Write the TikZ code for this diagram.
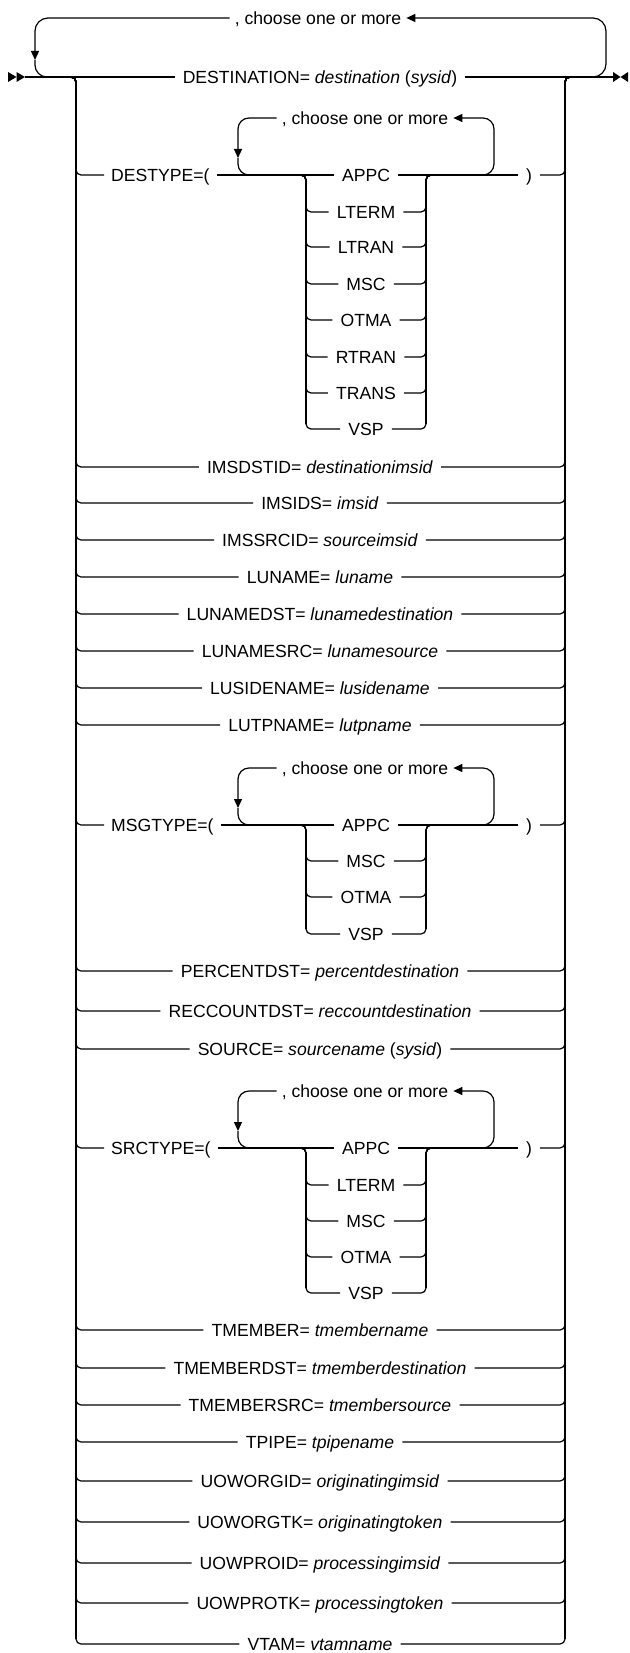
\documentclass[tikz,border=0pt]{standalone}
\usepackage{fontspec}
\setmainfont{Liberation Sans}
\usetikzlibrary{arrows.meta}
\usetikzlibrary{calc}

\tikzset{
    rail/.style={line width=1.2pt, rounded corners=5pt},
    hook/.style={line width=1.2pt, rounded corners=11pt},
    trunk/.style={line width=2.2pt},
    arrowed/.style={-{Triangle[length=9pt,width=8pt]}},
    kw/.style={inner xsep=8pt, inner ysep=0pt, text height=12.5pt, text depth=0pt, font=\fontsize{17.6}{21}\selectfont},
    grp/.style={kw, anchor=west, inner xsep=7pt},
    rep/.style={kw, inner xsep=5pt},
}

\begin{document}
\begin{tikzpicture}[x=1pt, y=-1pt]
    \useasboundingbox (0,0) rectangle (629,1653);

    % start and end marks of the rail
    \fill (8,72) -- (16.5,77) -- (8,82) -- cycle;
    \fill (16.5,72) -- (25,77) -- (16.5,82) -- cycle;
    \fill (613,72) -- (620.5,77) -- (613,82) -- cycle;
    \fill (628,72) -- (620.5,77) -- (628,82) -- cycle;

    \coordinate (begin) at (25,77);
    \coordinate (finish) at (613,77);
    \coordinate (ls) at (66,77);
    \coordinate (lb) at (76,77);
    \coordinate (rt) at (565,77);
    \coordinate (re) at (575,77);

    % outer repeat
    \coordinate (tback) at (590,77);
    \coordinate (tturn) at (606,18);
    \coordinate (tarrow) at (35,60);
    \coordinate (tmerge) at (49,77);

    \node[rep] (tmore) at (318,18) {, choose one or more\hspace{9pt}};
    \node[kw] (dest) at (320,77) {DESTINATION= \textit{destination} (\textit{sysid})};

    % DESTYPE
    \node[rep] (dmore) at (365,118) {, choose one or more\hspace{9pt}};
    \node[grp] (destype) at (104,175) {DESTYPE=(};
    \node[kw] (dappc) at (366,175) {APPC};
    \node[kw] (dlterm) at (366,212) {LTERM};
    \node[kw] (dltran) at (366,247) {LTRAN};
    \node[kw] (dmsc) at (366,284) {MSC};
    \node[kw] (dotma) at (366,320) {OTMA};
    \node[kw] (drtran) at (366,357) {RTRAN};
    \node[kw] (dtrans) at (366,393) {TRANS};
    \node[kw] (dvsp) at (366,429) {VSP};
    \node[kw] (dclose) at (529,175) {)};

    \coordinate (dsplit) at (296,175);
    \coordinate (dbl) at (306,175);
    \coordinate (dbr) at (426,175);
    \coordinate (djoin) at (436,175);
    \coordinate (dback) at (480,175);
    \coordinate (dturn) at (494,118);
    \coordinate (darrow) at (238,158);
    \coordinate (dmerge) at (250,175);

    \node[kw] (imsdstid) at (320,467) {IMSDSTID= \textit{destinationimsid}\ };
    \node[kw] (imsids) at (320,503) {IMSIDS= \textit{imsid}};
    \node[kw] (imssrcid) at (320,540) {IMSSRCID= \textit{sourceimsid}};
    \node[kw] (luname) at (320,577) {LUNAME= \textit{luname}};
    \node[kw] (lunamedst) at (320,614) {LUNAMEDST= \textit{lunamedestination}\ };
    \node[kw] (lunamesrc) at (320,651) {LUNAMESRC= \textit{lunamesource}};
    \node[kw] (lusidename) at (320,688) {LUSIDENAME= \textit{lusidename}};
    \node[kw] (lutpname) at (320,725) {LUTPNAME= \textit{lutpname}};

    % MSGTYPE
    \node[rep] (mmore) at (365,768) {, choose one or more\hspace{9pt}};
    \node[grp] (msgtype) at (104,825) {MSGTYPE=(};
    \node[kw] (mappc) at (366,825) {APPC};
    \node[kw] (mmsc) at (366,861) {MSC};
    \node[kw] (motma) at (366,897) {OTMA};
    \node[kw] (mvsp) at (366,934) {VSP};
    \node[kw] (mclose) at (529,825) {)};

    \coordinate (msplit) at (296,825);
    \coordinate (mbl) at (306,825);
    \coordinate (mbr) at (426,825);
    \coordinate (mjoin) at (436,825);
    \coordinate (mback) at (480,825);
    \coordinate (mturn) at (494,768);
    \coordinate (marrow) at (238,808);
    \coordinate (mmerge) at (250,825);

    \node[kw] (percentdst) at (320,971) {PERCENTDST= \textit{percentdestination}\ };
    \node[kw] (reccountdst) at (320,1011) {RECCOUNTDST= \textit{reccountdestination}\ };
    \node[kw] (source) at (320,1049) {SOURCE= \textit{sourcename} (\textit{sysid})};

    % SRCTYPE
    \node[rep] (smore) at (365,1091) {, choose one or more\hspace{9pt}};
    \node[grp] (srctype) at (104,1148) {SRCTYPE=(};
    \node[kw] (sappc) at (366,1148) {APPC};
    \node[kw] (slterm) at (366,1185) {LTERM};
    \node[kw] (smsc) at (366,1221) {MSC};
    \node[kw] (sotma) at (366,1257) {OTMA};
    \node[kw] (svsp) at (366,1293) {VSP};
    \node[kw] (sclose) at (529,1148) {)};

    \coordinate (ssplit) at (296,1148);
    \coordinate (sbl) at (306,1148);
    \coordinate (sbr) at (426,1148);
    \coordinate (sjoin) at (436,1148);
    \coordinate (sback) at (480,1148);
    \coordinate (sturn) at (494,1091);
    \coordinate (sarrow) at (238,1131);
    \coordinate (smerge) at (250,1148);

    \node[kw] (tmember) at (320,1330) {TMEMBER= \textit{tmembername}};
    \node[kw] (tmemberdst) at (320,1368) {TMEMBERDST= \textit{tmemberdestination}\ };
    \node[kw] (tmembersrc) at (320,1405) {TMEMBERSRC= \textit{tmembersource}};
    \node[kw] (tpipe) at (320,1442) {TPIPE= \textit{tpipename}};
    \node[kw] (uoworgid) at (320,1481) {UOWORGID= \textit{originatingimsid}\ };
    \node[kw] (uoworgtk) at (320,1522) {UOWORGTK= \textit{originatingtoken}};
    \node[kw] (uowproid) at (320,1563) {UOWPROID= \textit{processingimsid}\ };
    \node[kw] (uowprotk) at (320,1603) {UOWPROTK= \textit{processingtoken}};
    \node[kw] (vtam) at (320,1644) {VTAM= \textit{vtamname}};

    % main line and outer repeat
    \draw[rail] (begin) -- (dest);
    \draw[rail] (dest) -- (finish);
    \draw[hook, rounded corners=13pt, arrowed] (tback) -| (tturn) -- (tmore);
    \draw[hook, rounded corners=13pt, arrowed] (tmore) -| (tarrow);
    \draw[hook, rounded corners=12pt] (tarrow) |- (tmerge);

    % outer brackets
    \draw[trunk] ($(lb)+(0,5)$) -- ($(lb |- vtam)+(0,-5)$);
    \draw[trunk] ($(rt)+(0,5)$) -- ($(rt |- vtam)+(0,-5)$);

    % DESTYPE
    \draw[rail] (ls) -| (lb |- destype) -- (destype);
    \draw[rail] (destype) -- (dappc);
    \draw[rail] (dappc) -- (dclose);
    \draw[rail] (dclose) -| (rt) -- (re);
    \draw[rail] (dsplit) -| (dbl |- dlterm) -- (dlterm);
    \draw[rail] (dsplit) -| (dbl |- dltran) -- (dltran);
    \draw[rail] (dsplit) -| (dbl |- dmsc) -- (dmsc);
    \draw[rail] (dsplit) -| (dbl |- dotma) -- (dotma);
    \draw[rail] (dsplit) -| (dbl |- drtran) -- (drtran);
    \draw[rail] (dsplit) -| (dbl |- dtrans) -- (dtrans);
    \draw[rail] (dsplit) -| (dbl |- dvsp) -- (dvsp);
    \draw[rail] (dlterm) -| (dbr) -- (djoin);
    \draw[rail] (dltran) -| (dbr) -- (djoin);
    \draw[rail] (dmsc) -| (dbr) -- (djoin);
    \draw[rail] (dotma) -| (dbr) -- (djoin);
    \draw[rail] (drtran) -| (dbr) -- (djoin);
    \draw[rail] (dtrans) -| (dbr) -- (djoin);
    \draw[rail] (dvsp) -| (dbr) -- (djoin);
    \draw[trunk] ($(dbl)+(0,5)$) -- ($(dbl |- dvsp)+(0,-5)$);
    \draw[trunk] ($(dbr)+(0,5)$) -- ($(dbr |- dvsp)+(0,-5)$);
    \draw[hook, arrowed] (dback) -| (dturn) -- (dmore);
    \draw[hook, arrowed] (dmore) -| (darrow);
    \draw[hook] (darrow) |- (dmerge);

    % plain rows
    \draw[rail] (ls) -| (lb |- imsdstid) -- (imsdstid);
    \draw[rail] (imsdstid) -| (rt) -- (re);
    \draw[rail] (ls) -| (lb |- imsids) -- (imsids);
    \draw[rail] (imsids) -| (rt) -- (re);
    \draw[rail] (ls) -| (lb |- imssrcid) -- (imssrcid);
    \draw[rail] (imssrcid) -| (rt) -- (re);
    \draw[rail] (ls) -| (lb |- luname) -- (luname);
    \draw[rail] (luname) -| (rt) -- (re);
    \draw[rail] (ls) -| (lb |- lunamedst) -- (lunamedst);
    \draw[rail] (lunamedst) -| (rt) -- (re);
    \draw[rail] (ls) -| (lb |- lunamesrc) -- (lunamesrc);
    \draw[rail] (lunamesrc) -| (rt) -- (re);
    \draw[rail] (ls) -| (lb |- lusidename) -- (lusidename);
    \draw[rail] (lusidename) -| (rt) -- (re);
    \draw[rail] (ls) -| (lb |- lutpname) -- (lutpname);
    \draw[rail] (lutpname) -| (rt) -- (re);

    % MSGTYPE
    \draw[rail] (ls) -| (lb |- msgtype) -- (msgtype);
    \draw[rail] (msgtype) -- (mappc);
    \draw[rail] (mappc) -- (mclose);
    \draw[rail] (mclose) -| (rt) -- (re);
    \draw[rail] (msplit) -| (mbl |- mmsc) -- (mmsc);
    \draw[rail] (msplit) -| (mbl |- motma) -- (motma);
    \draw[rail] (msplit) -| (mbl |- mvsp) -- (mvsp);
    \draw[rail] (mmsc) -| (mbr) -- (mjoin);
    \draw[rail] (motma) -| (mbr) -- (mjoin);
    \draw[rail] (mvsp) -| (mbr) -- (mjoin);
    \draw[trunk] ($(mbl)+(0,5)$) -- ($(mbl |- mvsp)+(0,-5)$);
    \draw[trunk] ($(mbr)+(0,5)$) -- ($(mbr |- mvsp)+(0,-5)$);
    \draw[hook, arrowed] (mback) -| (mturn) -- (mmore);
    \draw[hook, arrowed] (mmore) -| (marrow);
    \draw[hook] (marrow) |- (mmerge);

    \draw[rail] (ls) -| (lb |- percentdst) -- (percentdst);
    \draw[rail] (percentdst) -| (rt) -- (re);
    \draw[rail] (ls) -| (lb |- reccountdst) -- (reccountdst);
    \draw[rail] (reccountdst) -| (rt) -- (re);
    \draw[rail] (ls) -| (lb |- source) -- (source);
    \draw[rail] (source) -| (rt) -- (re);

    % SRCTYPE
    \draw[rail] (ls) -| (lb |- srctype) -- (srctype);
    \draw[rail] (srctype) -- (sappc);
    \draw[rail] (sappc) -- (sclose);
    \draw[rail] (sclose) -| (rt) -- (re);
    \draw[rail] (ssplit) -| (sbl |- slterm) -- (slterm);
    \draw[rail] (ssplit) -| (sbl |- smsc) -- (smsc);
    \draw[rail] (ssplit) -| (sbl |- sotma) -- (sotma);
    \draw[rail] (ssplit) -| (sbl |- svsp) -- (svsp);
    \draw[rail] (slterm) -| (sbr) -- (sjoin);
    \draw[rail] (smsc) -| (sbr) -- (sjoin);
    \draw[rail] (sotma) -| (sbr) -- (sjoin);
    \draw[rail] (svsp) -| (sbr) -- (sjoin);
    \draw[trunk] ($(sbl)+(0,5)$) -- ($(sbl |- svsp)+(0,-5)$);
    \draw[trunk] ($(sbr)+(0,5)$) -- ($(sbr |- svsp)+(0,-5)$);
    \draw[hook, arrowed] (sback) -| (sturn) -- (smore);
    \draw[hook, arrowed] (smore) -| (sarrow);
    \draw[hook] (sarrow) |- (smerge);

    \draw[rail] (ls) -| (lb |- tmember) -- (tmember);
    \draw[rail] (tmember) -| (rt) -- (re);
    \draw[rail] (ls) -| (lb |- tmemberdst) -- (tmemberdst);
    \draw[rail] (tmemberdst) -| (rt) -- (re);
    \draw[rail] (ls) -| (lb |- tmembersrc) -- (tmembersrc);
    \draw[rail] (tmembersrc) -| (rt) -- (re);
    \draw[rail] (ls) -| (lb |- tpipe) -- (tpipe);
    \draw[rail] (tpipe) -| (rt) -- (re);
    \draw[rail] (ls) -| (lb |- uoworgid) -- (uoworgid);
    \draw[rail] (uoworgid) -| (rt) -- (re);
    \draw[rail] (ls) -| (lb |- uoworgtk) -- (uoworgtk);
    \draw[rail] (uoworgtk) -| (rt) -- (re);
    \draw[rail] (ls) -| (lb |- uowproid) -- (uowproid);
    \draw[rail] (uowproid) -| (rt) -- (re);
    \draw[rail] (ls) -| (lb |- uowprotk) -- (uowprotk);
    \draw[rail] (uowprotk) -| (rt) -- (re);
    \draw[rail] (ls) -| (lb |- vtam) -- (vtam);
    \draw[rail] (vtam) -| (rt) -- (re);

\end{tikzpicture}
\end{document}
